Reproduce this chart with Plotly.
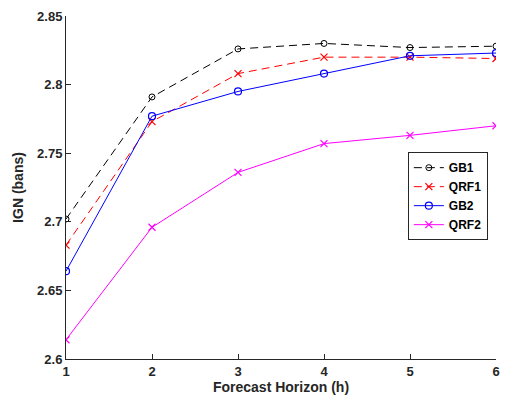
import plotly.graph_objects as go

horizon = [1, 2, 3, 4, 5, 6]
gb1 = [2.702, 2.791, 2.826, 2.830, 2.827, 2.828]
qrf1 = [2.683, 2.773, 2.808, 2.820, 2.820, 2.819]
gb2 = [2.664, 2.777, 2.795, 2.808, 2.821, 2.823]
qrf2 = [2.614, 2.696, 2.736, 2.757, 2.763, 2.770]
ytick_vals = [2.6, 2.65, 2.7, 2.75, 2.8, 2.85]
ytick_text = ["2.6", "2.65", "2.7", "2.75", "2.8", "2.85"]

fig = go.Figure()
fig.add_trace(go.Scatter(x=horizon, y=gb1, name="GB1", mode="lines+markers",
                         line=dict(color="black", width=1, dash="8px,5px"),
                         marker=dict(symbol="circle-open", size=6, color="black", line=dict(width=1))))
fig.add_trace(go.Scatter(x=horizon, y=qrf1, name="QRF1", mode="lines+markers",
                         line=dict(color="red", width=1, dash="8px,5px"),
                         marker=dict(symbol="x-thin-open", size=7, color="red", line=dict(width=1.2, color="red"))))
fig.add_trace(go.Scatter(x=horizon, y=gb2, name="GB2", mode="lines+markers",
                         line=dict(color="blue", width=1),
                         marker=dict(symbol="circle-open", size=7, color="blue", line=dict(width=1.2))))
fig.add_trace(go.Scatter(x=horizon, y=qrf2, name="QRF2", mode="lines+markers",
                         line=dict(color="magenta", width=1),
                         marker=dict(symbol="x-thin-open", size=7, color="magenta", line=dict(width=1.2, color="magenta"))))

tf = dict(family="Liberation Sans, Arial", size=13, color="#262626", weight="bold")
fig.update_layout(
    width=505, height=401,
    margin=dict(l=66, r=5, t=16, b=42),
    paper_bgcolor="white", plot_bgcolor="white",
    font=dict(family="Liberation Sans, Arial", size=12, color="#262626"),
    showlegend=True,
    legend=dict(x=0.795, y=0.603, xanchor="left", yanchor="top",
                bordercolor="#262626", borderwidth=1, bgcolor="white",
                font=dict(family="Liberation Sans, Arial", size=12, color="black", weight="bold"),
                tracegroupgap=0, itemwidth=30),
    xaxis=dict(range=[1, 6], tickvals=horizon, showgrid=False, zeroline=False,
               showline=True, linecolor="#262626", linewidth=1,
               ticks="inside", ticklen=5, tickcolor="#262626",
               tickfont=tf,
               title=dict(text="<b>Forecast Horizon (h)</b>", font=dict(size=14, color="#262626"), standoff=4)),
    yaxis=dict(range=[2.6, 2.85], tickvals=ytick_vals, ticktext=ytick_text, showgrid=False, zeroline=False,
               showline=True, linecolor="#262626", linewidth=1,
               ticks="inside", ticklen=5, tickcolor="#262626",
               tickfont=tf,
               title=dict(text="<b>IGN (bans)</b>", font=dict(size=14, color="#262626"), standoff=10)),
)
fig.write_html("out.html", config={"displayModeBar": False})
with open("out.html", "r", encoding="utf-8") as f:
    html = f.read()
html = html.replace("<head>", "<head><style>html,body{margin:0;padding:0;overflow:hidden;}</style>", 1)
with open("out.html", "w", encoding="utf-8") as f:
    f.write(html)
